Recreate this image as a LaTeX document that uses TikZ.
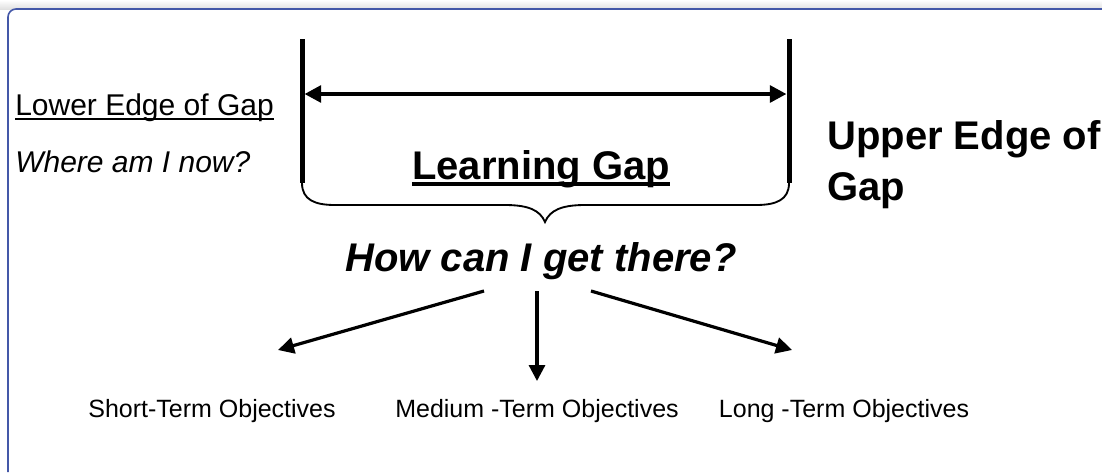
\documentclass[tikz,border=0pt]{standalone}
\usepackage{fontspec}
\setmainfont{Liberation Sans}
\usetikzlibrary{arrows.meta}
\definecolor{frameblue}{RGB}{68,88,168}
\begin{document}
\begin{tikzpicture}[x=0.75pt,y=-0.75pt,
  frame/.style={draw=frameblue,line width=1.2pt,rounded corners=6pt},
  bar/.style={line width=3.75pt},
  span/.style={line width=3pt,{Triangle[length=12.5pt,width=12.5pt]}-{Triangle[length=12.5pt,width=12.5pt]}},
  bracket/.style={line width=1.4pt},
  branch/.style={line width=2.4pt,-{Triangle[length=12pt,width=12pt]}},
  txt/.style={inner sep=0pt,font=\fontsize{22.5pt}{27pt}\selectfont},
  big/.style={inner sep=0pt,font=\fontsize{30pt}{38pt}\selectfont\bfseries},
  small/.style={inner sep=0pt,font=\fontsize{18.75pt}{22pt}\selectfont},
  uline/.style={line width=#1}]
\useasboundingbox (0,0) rectangle (1102,472);

% soft band above the frame and the open frame itself
\shade[top color=white,bottom color=black!12] (0,0) rectangle (1102,9);
\draw[frame] (8,472) -- (8,9) -- (1102,9);

% the two edges of the gap
\coordinate (LT) at (302,39);
\coordinate (LB) at (302,183);
\coordinate (RT) at (789,39);
\coordinate (RB) at (789,183);
\draw[bar] (LT) -- (LB);
\draw[bar] (RT) -- (RB);

% span arrow between the edges
\coordinate (SL) at (304.5,94);
\coordinate (SR) at (786.5,94);
\draw[span] (SL) -- (SR);

% curly bracket under the gap
\coordinate (tip) at (545,222);
\draw[bracket] (LB) .. controls (302,200) and (315,205) .. (335,205)
  -- (505,205) .. controls (528,205) and (540,210) .. (tip)
  .. controls (550,210) and (562,205) .. (585,205)
  -- (756,205) .. controls (776,205) and (789,200) .. (RB);

% labels
\node[txt,anchor=base west] (lower) at (15,115) {Lower Edge of Gap};
\draw[uline=2pt] ([yshift=-3pt]lower.base west) -- ([yshift=-3pt]lower.base east);
\node[txt,anchor=base west,font=\fontsize{22.5pt}{27pt}\selectfont\itshape] (where) at (15,172) {Where am I now?};

\node[big,anchor=base] (gap) at (541,179) {Learning Gap};
\draw[uline=3pt] ([yshift=-4pt]gap.base west) -- ([yshift=-4pt]gap.base east);

\node[big,anchor=base west,align=left,font=\fontsize{30pt}{38pt}\selectfont\bfseries] (upper) at (827,200) {Upper Edge of\\Gap};

\node[big,anchor=base,font=\fontsize{30pt}{38pt}\selectfont\bfseries\itshape] (how) at (541,271) {How can I get there?};

% objectives
\node[small,anchor=base] (short) at (212,417) {Short-Term Objectives};
\node[small,anchor=base] (medium) at (537,417) {Medium -Term Objectives};
\node[small,anchor=base] (long) at (844,417) {Long -Term Objectives};

\coordinate (aL) at (484,291);
\coordinate (aM) at (537,291);
\coordinate (aR) at (591,291);
\coordinate (tL) at (278,350);
\coordinate (tM) at (537,381);
\coordinate (tR) at (792,350);
\draw[branch] (aL) -- (tL);
\draw[branch] (aM) -- (tM);
\draw[branch] (aR) -- (tR);
\end{tikzpicture}
\end{document}
